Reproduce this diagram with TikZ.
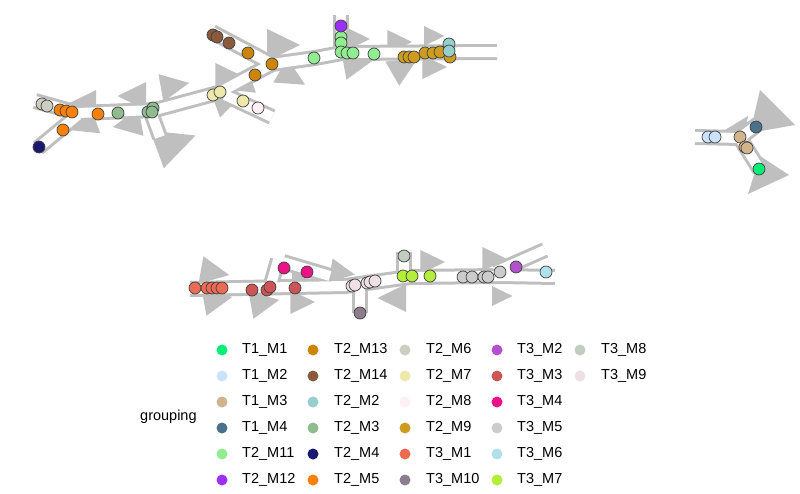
\documentclass[tikz,border=0pt]{standalone}
\usepackage{fontspec}
\setmainfont{Liberation Sans}
\begin{document}
\begin{tikzpicture}[x=1pt,y=-1pt,
  road/.style={line width=16pt,draw=black!25,line join=round},
  roadin/.style={line width=10pt,draw=white,line join=round},
  lab/.style={font=\fontsize{14.5}{16}\selectfont,anchor=west,inner sep=0pt}]
\useasboundingbox[fill=white] (0,0) rectangle (800,494);
\definecolor{tA}{HTML}{00EE76}\definecolor{tB}{HTML}{CAE1FF}\definecolor{tC}{HTML}{D2B48C}\definecolor{tD}{HTML}{4A708B}
\definecolor{uK}{HTML}{90EE90}\definecolor{uL}{HTML}{9B30FF}\definecolor{uM}{HTML}{CD8500}\definecolor{uN}{HTML}{8B5A3C}
\definecolor{uB}{HTML}{96CDCD}\definecolor{uC}{HTML}{8FBC8F}\definecolor{uD}{HTML}{191970}\definecolor{uE}{HTML}{FF7F00}
\definecolor{uF}{HTML}{CDCDC1}\definecolor{uG}{HTML}{EEE8AA}\definecolor{uH}{HTML}{FFF0F5}\definecolor{uI}{HTML}{CD9B1D}
\definecolor{vA}{HTML}{EE6A50}\definecolor{vJ}{HTML}{8B7D8B}\definecolor{vB}{HTML}{B452CD}\definecolor{vC}{HTML}{CD5555}
\definecolor{vD}{HTML}{EE1289}\definecolor{vE}{HTML}{CCCCCC}\definecolor{vF}{HTML}{B2DFEE}\definecolor{vG}{HTML}{B3EE3A}
\definecolor{vH}{HTML}{C1CDC1}\definecolor{vI}{HTML}{EEE0E5}
\newcommand\tri[4]{\begin{scope}[shift={(#1,#2)},rotate=#3]\fill[black!25] (1.25*#4,0)--(-0.8*#4,1.0*#4)--(-0.8*#4,-1.0*#4)--cycle;\end{scope}}
\newcommand\dt[3]{\filldraw[fill=#1,draw=black!75,line width=0.7pt] (#2,#3) circle (6);}
% triangles top
\tri{85}{104}{180}{14}\tri{85}{124}{200}{14}\tri{135}{96}{180}{14}\tri{130}{124}{190}{14}
\tri{172}{144}{20}{20}\tri{172}{86}{10}{14}\tri{225}{75}{0}{12}\tri{225}{103}{20}{12}
\tri{245}{86}{200}{10}\tri{280}{45}{0}{16}\tri{290}{76}{-30}{14}\tri{355}{39}{0}{12}
\tri{355}{64}{10}{14}\tri{397}{42}{0}{12}\tri{402}{68}{30}{14}\tri{432}{36}{0}{10}\tri{432}{67}{0}{12}
% triangles bottom
\tri{212}{272}{-10}{14}\tri{215}{300}{10}{14}\tri{262}{303}{10}{14}\tri{300}{302}{0}{12}
\tri{300}{275}{0}{10}\tri{340}{272}{-10}{12}\tri{395}{298}{180}{14}\tri{430}{262}{0}{12}
\tri{492}{259}{0}{12}\tri{500}{296}{0}{10}
% triangles right
\fill[black!25] (760,90)--(795,125)--(750,133)--cycle;
\fill[black!25] (760,156)--(789,175)--(748,194)--cycle;
\fill[black!25] (720,133)--(748,116)--(744,138)--cycle;
% roads
\foreach \s in {road,roadin}{
 \draw[\s] (35,101)--(78,113);
 \draw[\s] (38,148)--(78,115);
 \draw[\s] (78,113)--(155,110)--(218,93)--(272,64)--(315,58)--(342,53)--(497,52);
 \draw[\s] (272,64)--(212,32);
 \draw[\s] (225,95)--(272,117);
 \draw[\s] (341,15)--(341,52);
 \draw[\s] (150,110)--(160,137);
 \draw[\s] (190,289)--(345,286)--(410,277)--(500,276)--(555,277);
 \draw[\s] (278,260)--(270,288);
 \draw[\s] (283,262)--(330,276);
 \draw[\s] (360,288)--(360,313);
 \draw[\s] (404,252)--(404,276);
 \draw[\s] (495,272)--(545,250);
 \draw[\s] (695,137)--(740,138)--(758,124);
 \draw[\s] (740,138)--(760,170);
}
% dots top
\dt{uF}{42}{104}\dt{uF}{47}{106}
\dt{uE}{60}{110}\dt{uE}{66}{111}\dt{uE}{72}{112}\dt{uE}{63}{130}\dt{uE}{98}{114}
\dt{uD}{39}{147}
\dt{uC}{118}{113}\dt{uC}{148}{112}\dt{uC}{153}{108}\dt{uC}{152}{112}
\dt{uG}{213}{95}\dt{uG}{220}{92}\dt{uG}{243}{101}\dt{uH}{258}{108}
\dt{uM}{248}{53}\dt{uM}{272}{64}\dt{uM}{255}{75}
\dt{uN}{213}{35}\dt{uN}{217}{37}\dt{uN}{229}{43}
\dt{uK}{314}{58}\dt{uK}{341}{37}\dt{uK}{341}{43}\dt{uK}{341}{52}\dt{uK}{347}{53}\dt{uK}{353}{53}\dt{uK}{374}{54}
\dt{uL}{341}{26}
\dt{uI}{404}{57}\dt{uI}{409}{57}\dt{uI}{414}{57}\dt{uI}{425}{53}\dt{uI}{433}{53}\dt{uI}{440}{52}\dt{uI}{450}{57}
\dt{uB}{449}{44}\dt{uB}{449}{51}
% dots bottom
\dt{vA}{195}{288}\dt{vA}{207}{288}\dt{vA}{212}{288}\dt{vA}{217}{288}\dt{vA}{222}{288}
\dt{vC}{252}{290}\dt{vC}{267}{290}\dt{vC}{270}{287}\dt{vC}{295}{288}
\dt{vD}{284}{268}\dt{vD}{307}{272}
\dt{vI}{352}{286}\dt{vI}{355}{285}\dt{vI}{367}{283}\dt{vI}{370}{282}\dt{vI}{375}{281}
\dt{vJ}{360}{313}\dt{vH}{404}{256}
\dt{vG}{403}{276}\dt{vG}{412}{276}\dt{vG}{430}{276}
\dt{vE}{463}{277}\dt{vE}{472}{277}\dt{vE}{484}{277}\dt{vE}{488}{277}\dt{vE}{500}{272}
\dt{vB}{516}{267}\dt{vF}{546}{272}
% dots right
\dt{tB}{708}{137}\dt{tB}{715}{137}\dt{tC}{740}{137}\dt{tC}{745}{147}\dt{tC}{747}{148}
\dt{tD}{756}{127}\dt{tA}{759}{169}
% legend
\node[lab] (g) at (140,417) {grouping};
\foreach \c/\t [count=\i from 0] in {tA/T1\_M1,tB/T1\_M2,tC/T1\_M3,tD/T1\_M4,uK/T2\_M11,uL/T2\_M12}
 {\fill[\c] (222,350+26*\i) circle (5.5); \node[lab] (a\i) at (242,350+26*\i) {\t};}
\foreach \c/\t [count=\i from 0] in {uM/T2\_M13,uN/T2\_M14,uB/T2\_M2,uC/T2\_M3,uD/T2\_M4,uE/T2\_M5}
 {\fill[\c] (313,350+26*\i) circle (5.5); \node[lab] (b\i) at (334,350+26*\i) {\t};}
\foreach \c/\t [count=\i from 0] in {uF/T2\_M6,uG/T2\_M7,uH/T2\_M8,uI/T2\_M9,vA/T3\_M1,vJ/T3\_M10}
 {\fill[\c] (405,350+26*\i) circle (5.5); \node[lab] (c\i) at (426,350+26*\i) {\t};}
\foreach \c/\t [count=\i from 0] in {vB/T3\_M2,vC/T3\_M3,vD/T3\_M4,vE/T3\_M5,vF/T3\_M6,vG/T3\_M7}
 {\fill[\c] (497,350+26*\i) circle (5.5); \node[lab] (d\i) at (517,350+26*\i) {\t};}
\foreach \c/\t [count=\i from 0] in {vH/T3\_M8,vI/T3\_M9}
 {\fill[\c] (580,350+26*\i) circle (5.5); \node[lab] (e\i) at (601,350+26*\i) {\t};}
\end{tikzpicture}
\end{document}
